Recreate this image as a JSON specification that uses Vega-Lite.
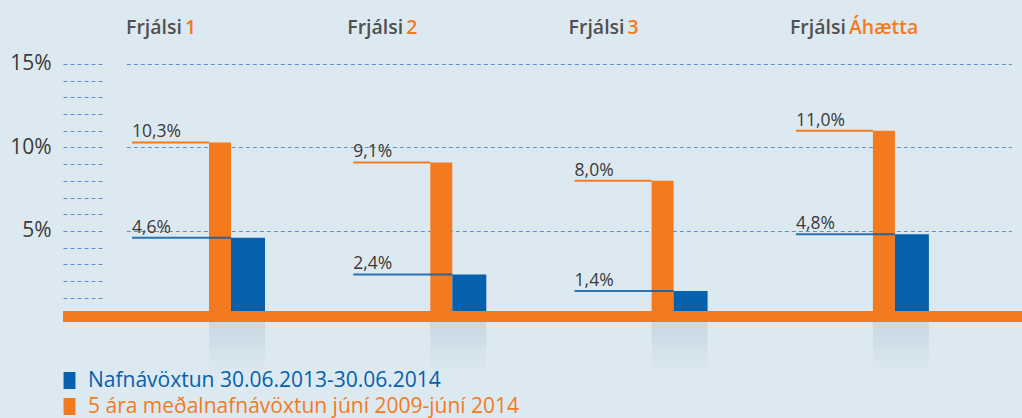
{
  "$schema": "https://vega.github.io/schema/vega-lite/v6.json",
  "width": 959,
  "height": 418,
  "autosize": {"type": "none"},
  "padding": {"left": 63, "top": 0, "right": 0, "bottom": 0},
  "background": "#dde9f0",
  "config": {"view": {"stroke": null}, "font": "Open Sans"},
  "datasets": {
    "bars": [
      {"fund": "Frjálsi 1", "series": "5 ára meðalnafnávöxtun júní 2009-júní 2014", "value": 10.3},
      {"fund": "Frjálsi 1", "series": "Nafnávöxtun 30.06.2013-30.06.2014", "value": 4.6},
      {"fund": "Frjálsi 2", "series": "5 ára meðalnafnávöxtun júní 2009-júní 2014", "value": 9.1},
      {"fund": "Frjálsi 2", "series": "Nafnávöxtun 30.06.2013-30.06.2014", "value": 2.4},
      {"fund": "Frjálsi 3", "series": "5 ára meðalnafnávöxtun júní 2009-júní 2014", "value": 8.0},
      {"fund": "Frjálsi 3", "series": "Nafnávöxtun 30.06.2013-30.06.2014", "value": 1.4},
      {"fund": "Frjálsi Áhætta", "series": "5 ára meðalnafnávöxtun júní 2009-júní 2014", "value": 11.0},
      {"fund": "Frjálsi Áhætta", "series": "Nafnávöxtun 30.06.2013-30.06.2014", "value": 4.8}
    ],
    "funds": [
      {"fund": "Frjálsi 1", "prefix": "Frjálsi", "suffix": "1"},
      {"fund": "Frjálsi 2", "prefix": "Frjálsi", "suffix": "2"},
      {"fund": "Frjálsi 3", "prefix": "Frjálsi", "suffix": "3"},
      {"fund": "Frjálsi Áhætta", "prefix": "Frjálsi", "suffix": "Áhætta"}
    ],
    "base": [{"level": 0}]
  },
  "layer": [
    {
      "data": {"name": "funds"},
      "mark": {"type": "bar", "width": 56, "fill": {"gradient": "linear", "x1": 0, "y1": 0, "x2": 0, "y2": 1, "stops": [{"offset": 0, "color": "#c2d6e2"}, {"offset": 1, "color": "#dde9f0"}]}},
      "encoding": {
        "x": {
          "field": "fund",
          "type": "nominal",
          "bandPosition": 0.5,
          "scale": {"type": "band", "domain": ["Frjálsi 1", "Frjálsi 2", "Frjálsi 3", "Frjálsi Áhætta"], "range": [63.35, 948.55], "paddingInner": 0, "paddingOuter": 0},
          "axis": null
        },
        "y": {
          "datum": 0,
          "type": "quantitative",
          "scale": {"domain": [-6.2, 18.83], "nice": false, "zero": false},
          "axis": {
            "values": [1, 2, 3, 4, 5, 6, 7, 8, 9, 10, 11, 12, 13, 14, 15],
            "tickCount": 30,
            "labelOverlap": false,
            "title": null,
            "domain": false,
            "labelExpr": "datum.value % 5 === 0 ? datum.value + '%' : ''",
            "labelFontSize": 21,
            "labelColor": "#3a3a3a",
            "labelPadding": 52,
            "tickSize": -40,
            "tickDash": [4, 3],
            "tickColor": "#5b90d6",
            "tickWidth": 1,
            "grid": true,
            "gridDash": [4, 3],
            "gridColor": "#5b90d6",
            "gridWidth": 1,
            "gridOpacity": {"condition": {"test": "datum.value % 5 === 0", "value": 1}, "value": 0}
          }
        },
        "y2": {"datum": -3.6}
      }
    },
    {
      "data": {"name": "bars"},
      "transform": [{"filter": "datum.series == '5 ára meðalnafnávöxtun júní 2009-júní 2014'"}],
      "mark": {"type": "bar", "width": 22, "xOffset": -17},
      "encoding": {
        "x": {"field": "fund", "type": "nominal", "bandPosition": 0.5},
        "y": {"field": "value", "type": "quantitative"},
        "y2": {"datum": 0},
        "color": {
          "field": "series",
          "type": "nominal",
          "scale": {"domain": ["Nafnávöxtun 30.06.2013-30.06.2014", "5 ára meðalnafnávöxtun júní 2009-júní 2014"], "range": ["#0560ae", "#f47a20"]},
          "legend": {
            "title": null,
            "orient": "none",
            "legendX": -4,
            "legendY": 370,
            "padding": 0,
            "symbolType": "M-0.7,-1H0.7V1H-0.7Z",
            "symbolSize": 289,
            "symbolStrokeWidth": 0,
            "labelFontSize": 21,
            "labelFont": "Open Sans",
            "labelFontWeight": 500,
            "labelOffset": 8,
            "rowPadding": 4,
            "labelLimit": 800,
            "encode": {"labels": {"update": {"fill": {"signal": "scale('color', datum.value)"}}}}
          }
        }
      }
    },
    {
      "data": {"name": "bars"},
      "transform": [{"filter": "datum.series == 'Nafnávöxtun 30.06.2013-30.06.2014'"}],
      "mark": {"type": "bar", "width": 34, "xOffset": 11, "color": "#0560ae"},
      "encoding": {
        "x": {"field": "fund", "type": "nominal", "bandPosition": 0.5},
        "y": {"field": "value", "type": "quantitative"},
        "y2": {"datum": 0}
      }
    },
    {
      "data": {"name": "bars"},
      "transform": [{"filter": "datum.series == '5 ára meðalnafnávöxtun júní 2009-júní 2014'"}],
      "mark": {"type": "rule", "xOffset": -105, "x2Offset": -28, "color": "#f47a20", "strokeWidth": 2},
      "encoding": {
        "x": {"field": "fund", "type": "nominal", "bandPosition": 0.5},
        "x2": {"field": "fund", "bandPosition": 0.5},
        "y": {"field": "value", "type": "quantitative"}
      }
    },
    {
      "data": {"name": "bars"},
      "transform": [{"filter": "datum.series == 'Nafnávöxtun 30.06.2013-30.06.2014'"}],
      "mark": {"type": "rule", "xOffset": -105, "x2Offset": -6, "color": "#0a5ea8", "strokeWidth": 2, "opacity": 0.85},
      "encoding": {
        "x": {"field": "fund", "type": "nominal", "bandPosition": 0.5},
        "x2": {"field": "fund", "bandPosition": 0.5},
        "y": {"field": "value", "type": "quantitative"}
      }
    },
    {
      "data": {"name": "bars"},
      "transform": [{"calculate": "replace(format(datum.value, '.1f'), '.', ',') + '%'", "as": "label"}],
      "mark": {"type": "text", "align": "left", "baseline": "alphabetic", "dx": -105, "dy": -5, "fontSize": 17.5, "color": "#3a3a3a"},
      "encoding": {
        "x": {"field": "fund", "type": "nominal", "bandPosition": 0.5},
        "y": {"field": "value", "type": "quantitative"},
        "text": {"field": "label"}
      }
    },
    {
      "data": {"name": "base"},
      "mark": {"type": "rule", "color": "#f47a20", "strokeWidth": 11, "yOffset": 2},
      "encoding": {"y": {"field": "level", "type": "quantitative"}}
    },
    {
      "data": {"name": "funds"},
      "mark": {"type": "text", "align": "left", "baseline": "alphabetic", "dx": -111, "fontSize": 19.5, "fontWeight": 600, "color": "#505050"},
      "encoding": {
        "x": {"field": "fund", "type": "nominal", "bandPosition": 0.5},
        "y": {"datum": 16.77, "type": "quantitative"},
        "text": {"field": "prefix"}
      }
    },
    {
      "data": {"name": "funds"},
      "mark": {"type": "text", "align": "left", "baseline": "alphabetic", "dx": -52, "fontSize": 19.5, "fontWeight": 600, "color": "#f47a20"},
      "encoding": {
        "x": {"field": "fund", "type": "nominal", "bandPosition": 0.5},
        "y": {"datum": 16.77, "type": "quantitative"},
        "text": {"field": "suffix"}
      }
    }
  ]
}
